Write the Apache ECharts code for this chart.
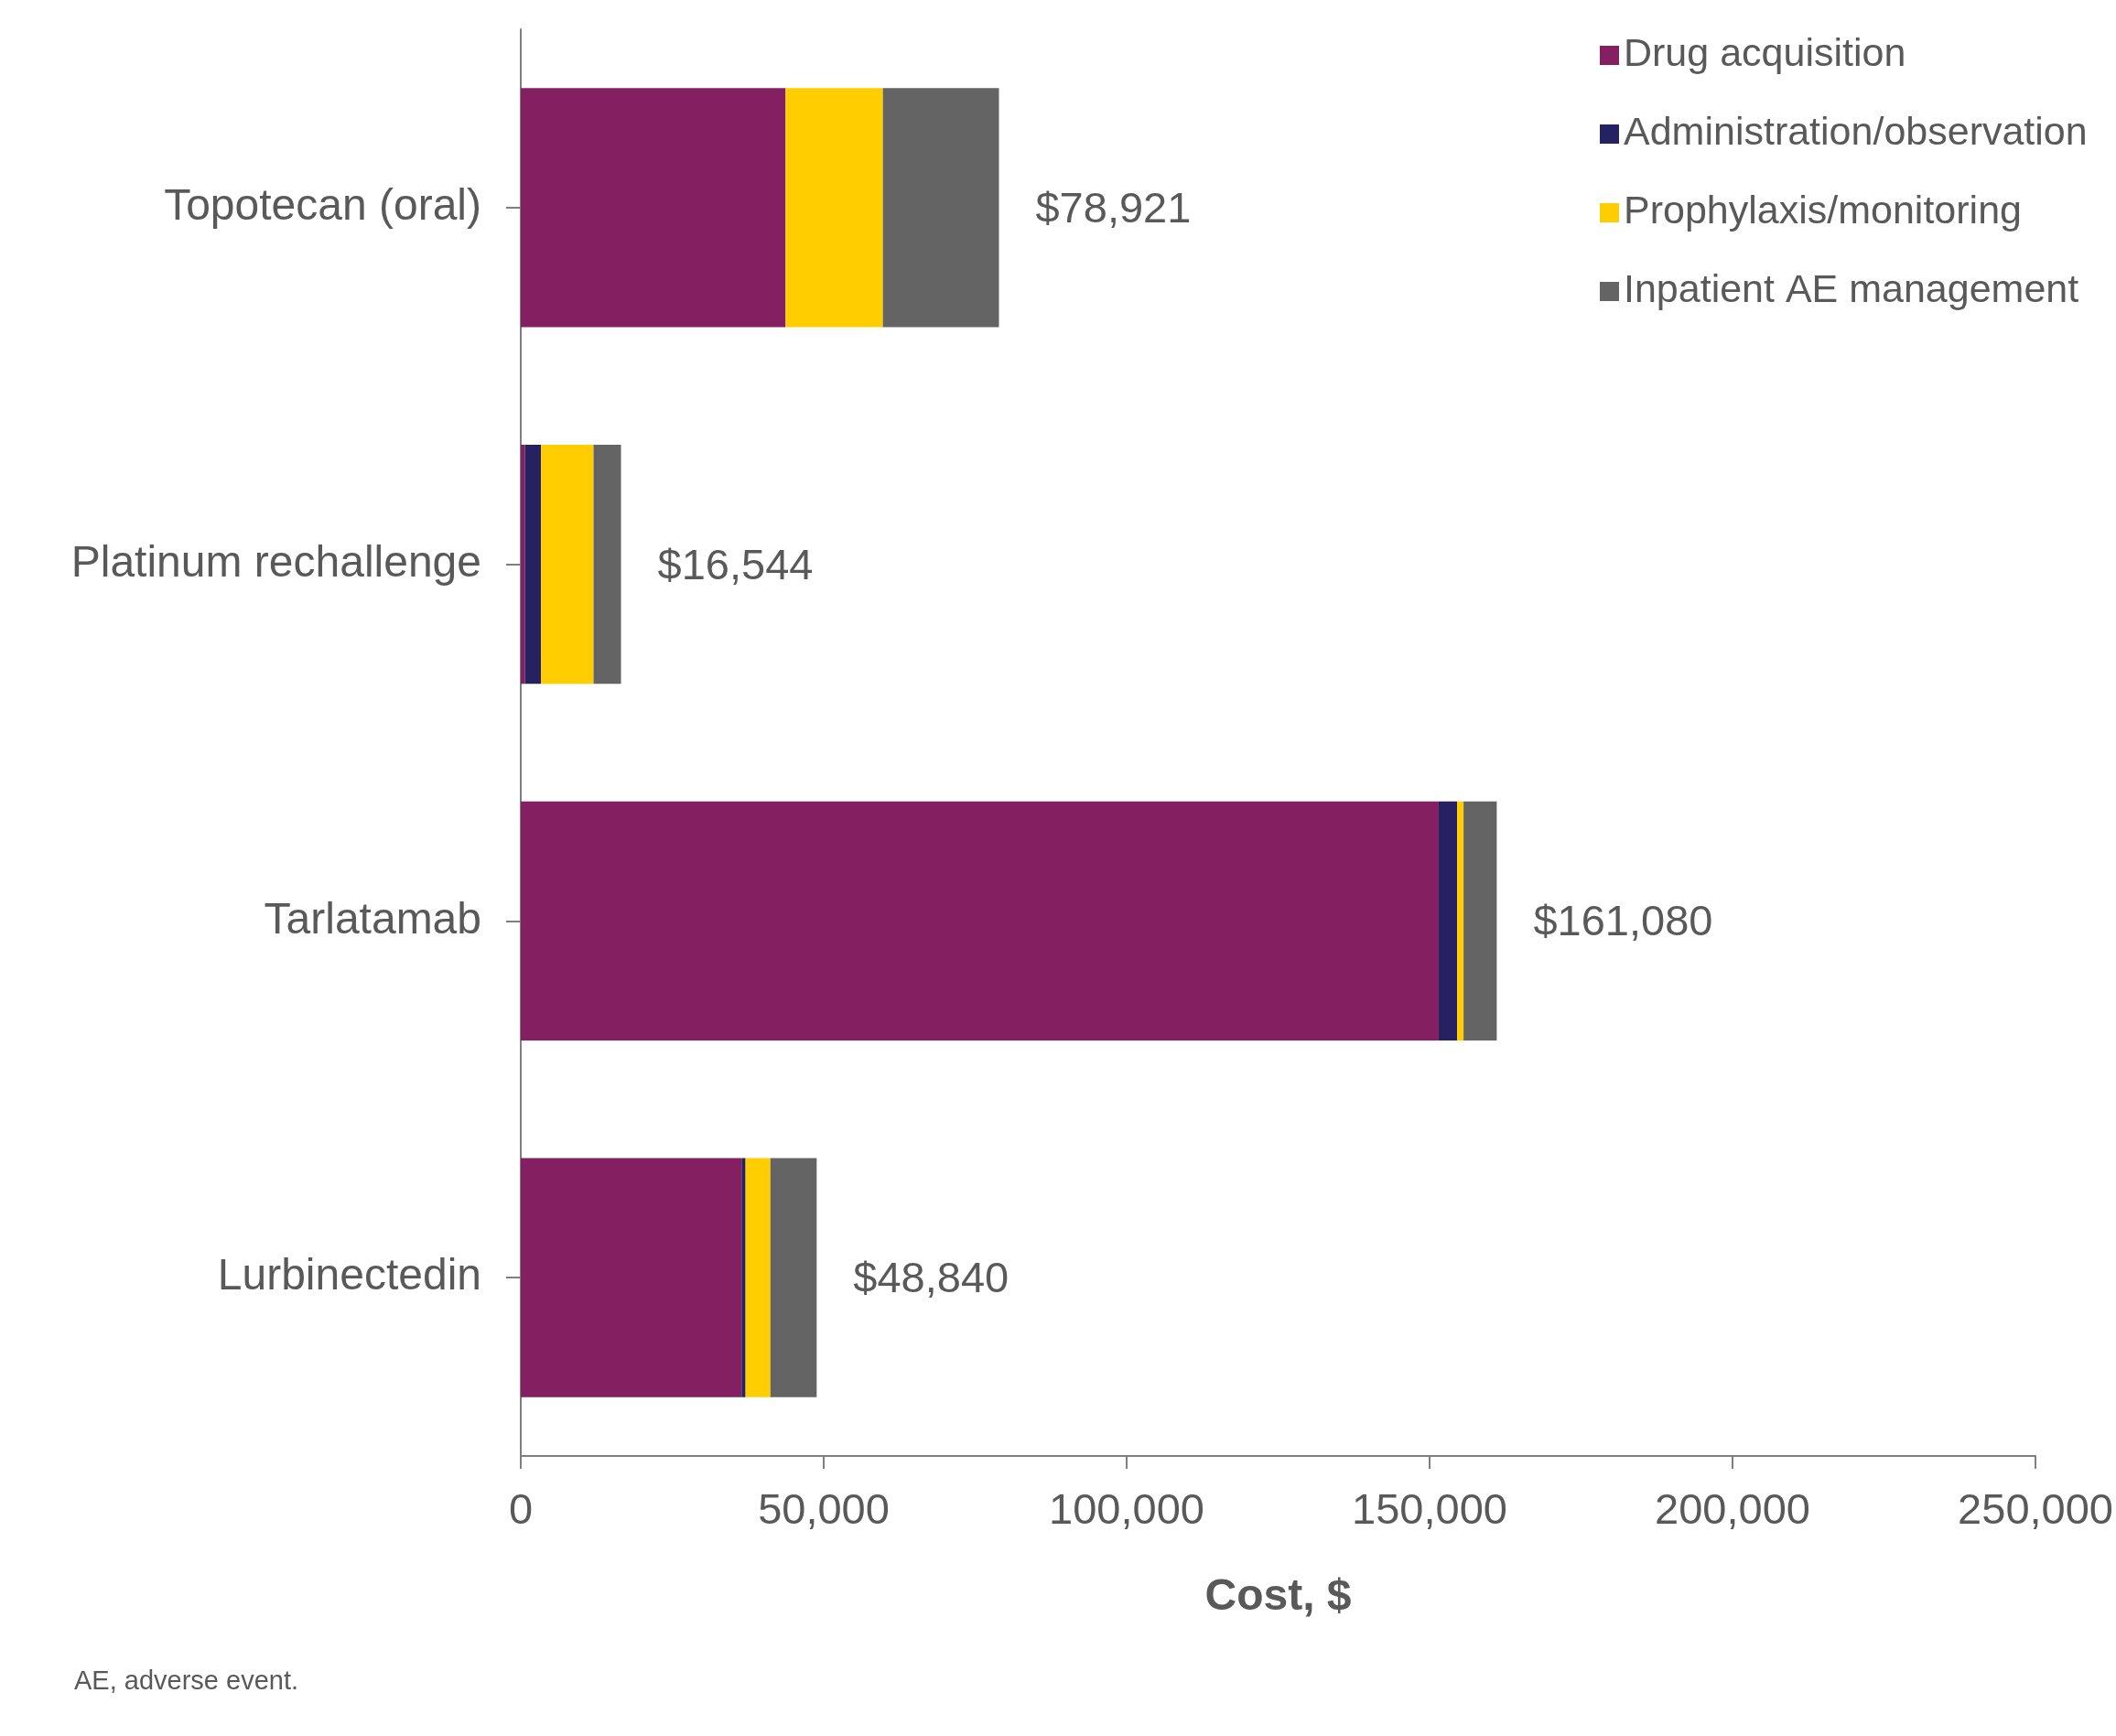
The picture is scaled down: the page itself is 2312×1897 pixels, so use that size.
<!DOCTYPE html>
<html>
<head>
<meta charset="utf-8">
<title>Cost breakdown by treatment</title>
<script src="https://cdn.jsdelivr.net/npm/echarts@6/dist/echarts.min.js"></script>
<style>
  html, body { margin: 0; padding: 0; background: #ffffff; overflow: hidden; }
  #chart { width: 2312px; height: 1897px; }
</style>
</head>
<body>
<div id="chart"></div>
<script>
// Treatments, top to bottom
const categories = ['Topotecan (oral)', 'Platinum rechallenge', 'Tarlatamab', 'Lurbinectedin'];

// Cost components, $
const drugAcquisition = [43710, 700, 151500, 36450];
const administrationObservation = [0, 2650, 3050, 650];
const prophylaxisMonitoring = [16050, 8660, 1050, 4100];
const inpatientAE = [19161, 4534, 5480, 7640];

// Axis ticks
const xTicks = [0, 50000, 100000, 150000, 200000, 250000];

const components = [
  { name: 'Drug acquisition', data: drugAcquisition, color: '#841F61' },
  { name: 'Administration/observation', data: administrationObservation, color: '#262262' },
  { name: 'Prophylaxis/monitoring', data: prophylaxisMonitoring, color: '#FFCD00' },
  { name: 'Inpatient AE management', data: inpatientAE, color: '#646464' }
];

// Total per treatment, shown at the end of each bar
const totals = categories.map((_, i) => components.reduce((s, c) => s + c.data[i], 0));

const FONT = "'Liberation Sans', Arial, Helvetica, sans-serif";
const TEXT = '#595959';
const AXIS = '#7f7f7f';

const series = components.map((c, idx) => ({
  name: c.name,
  type: 'bar',
  stack: 'cost',
  barCategoryGap: '33%',
  data: c.data,
  itemStyle: { color: c.color },
  label: idx === components.length - 1 ? {
    show: true,
    position: 'right',
    distance: 40,
    fontFamily: FONT,
    fontSize: 47,
    color: TEXT,
    offset: [0, 3],
    formatter: (p) => '$' + totals[p.dataIndex].toLocaleString('en-US')
  } : { show: false },
  emphasis: { disabled: true }
}));

const chart = echarts.init(document.getElementById('chart'), null, { renderer: 'canvas' });

chart.setOption({
  animation: false,
  backgroundColor: '#ffffff',
  textStyle: { fontFamily: FONT },
  grid: { left: 569, right: 80, top: 32, bottom: 306, containLabel: false },
  legend: {
    orient: 'vertical',
    left: 1743,
    top: 34,
    itemWidth: 21,
    itemHeight: 21,
    itemGap: 43,
    icon: 'rect',
    textStyle: { fontFamily: FONT, fontSize: 43, color: TEXT, lineHeight: 42, padding: [0, 0, 0, 0] },
    data: components.map(c => c.name),
    selectedMode: false
  },
  xAxis: {
    type: 'value',
    min: xTicks[0],
    max: xTicks[xTicks.length - 1],
    interval: xTicks[1] - xTicks[0],
    name: 'Cost, $',
    nameLocation: 'middle',
    nameGap: 131,
    nameTextStyle: { fontFamily: FONT, fontSize: 48, fontWeight: 'bold', color: TEXT },
    axisLine: { show: true, lineStyle: { color: AXIS, width: 2 } },
    axisTick: { show: true, length: 14, lineStyle: { color: AXIS, width: 2 } },
    axisLabel: {
      fontFamily: FONT, fontSize: 47, color: TEXT, margin: 38,
      formatter: (v) => v.toLocaleString('en-US')
    },
    splitLine: { show: false }
  },
  yAxis: {
    type: 'category',
    inverse: true,
    data: categories,
    axisLine: { show: true, lineStyle: { color: AXIS, width: 2 } },
    axisTick: { show: true, alignWithLabel: true, length: 16, lineStyle: { color: AXIS, width: 2 } },
    axisLabel: { fontFamily: FONT, fontSize: 48, color: TEXT, margin: 43, padding: [6, 0, 0, 0] }
  },
  graphic: [{
    type: 'text',
    left: 81,
    top: 1823,
    style: { text: 'AE, adverse event.', fontFamily: FONT, fontSize: 29, fill: TEXT }
  }],
  series: series
});
</script>
</body>
</html>
